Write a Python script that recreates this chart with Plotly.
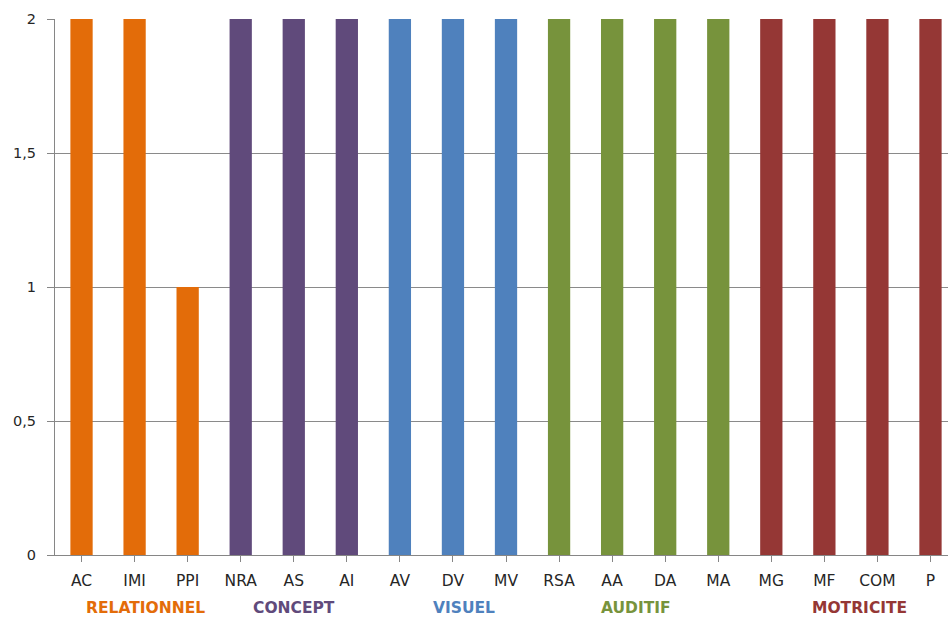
import plotly.graph_objects as go

# Scores per item, grouped by domain
categories = ["AC", "IMI", "PPI", "NRA", "AS", "AI", "AV", "DV", "MV",
              "RSA", "AA", "DA", "MA", "MG", "MF", "COM", "P"]
values = [2, 2, 1, 2, 2, 2, 2, 2, 2, 2, 2, 2, 2, 2, 2, 2, 2]
groups = ["RELATIONNEL"] * 3 + ["CONCEPT"] * 3 + ["VISUEL"] * 3 + \
         ["AUDITIF"] * 4 + ["MOTRICITE"] * 4

group_names = ["RELATIONNEL", "CONCEPT", "VISUEL", "AUDITIF", "MOTRICITE"]
group_label_pos = [1.2, 4.0, 7.2, 10.45, 14.67]
group_colors = {
    "RELATIONNEL": "#E36C09",
    "CONCEPT": "#604A7B",
    "VISUEL": "#4F81BD",
    "AUDITIF": "#77933C",
    "MOTRICITE": "#953735",
}

y_ticks = [0, 0.5, 1, 1.5, 2]
y_tick_text = ["0", "0,5", "1", "1,5", "2"]

FONT = "'DejaVu Sans', sans-serif"

fig = go.Figure()
fig.add_trace(go.Bar(
    x=list(range(len(categories))),
    y=values,
    width=0.42,
    marker=dict(color=[group_colors[g] for g in groups], line=dict(width=0)),
    hoverinfo="x+y",
))

for name, pos in zip(group_names, group_label_pos):
    fig.add_annotation(
        x=pos, y=0, xref="x", yref="paper",
        yshift=-53, yanchor="middle",
        text=f"<b>{name}</b>", showarrow=False,
        font=dict(family=FONT, size=15.5, color=group_colors[name]),
    )

fig.update_layout(
    width=948, height=621,
    margin=dict(l=55, r=0, t=19, b=66),
    paper_bgcolor="white", plot_bgcolor="white",
    showlegend=False,
    bargap=0.58,
    font=dict(family=FONT, size=14, color="#262626"),
)
fig.update_xaxes(
    tickmode="array",
    tickvals=list(range(len(categories))),
    ticktext=categories,
    range=[-0.5, 16.33],
    showgrid=False,
    showline=True, linecolor="#868686", linewidth=1,
    ticks="outside", tickson="boundaries", ticklen=6, tickcolor="#868686",
    ticklabelstandoff=5,
    tickfont=dict(size=15.5, color="#262626"),
    zeroline=False,
)
fig.update_yaxes(
    range=[0, 2],
    tickmode="array", tickvals=y_ticks, ticktext=y_tick_text,
    showgrid=True, gridcolor="#8a8a8a", gridwidth=1,
    showline=True, linecolor="#868686", linewidth=1,
    ticks="outside", ticklen=7, tickcolor="#868686",
    ticklabelstandoff=8,
    tickfont=dict(size=14.5, color="#262626"),
    zeroline=False,
)

fig.write_html("out.html")
